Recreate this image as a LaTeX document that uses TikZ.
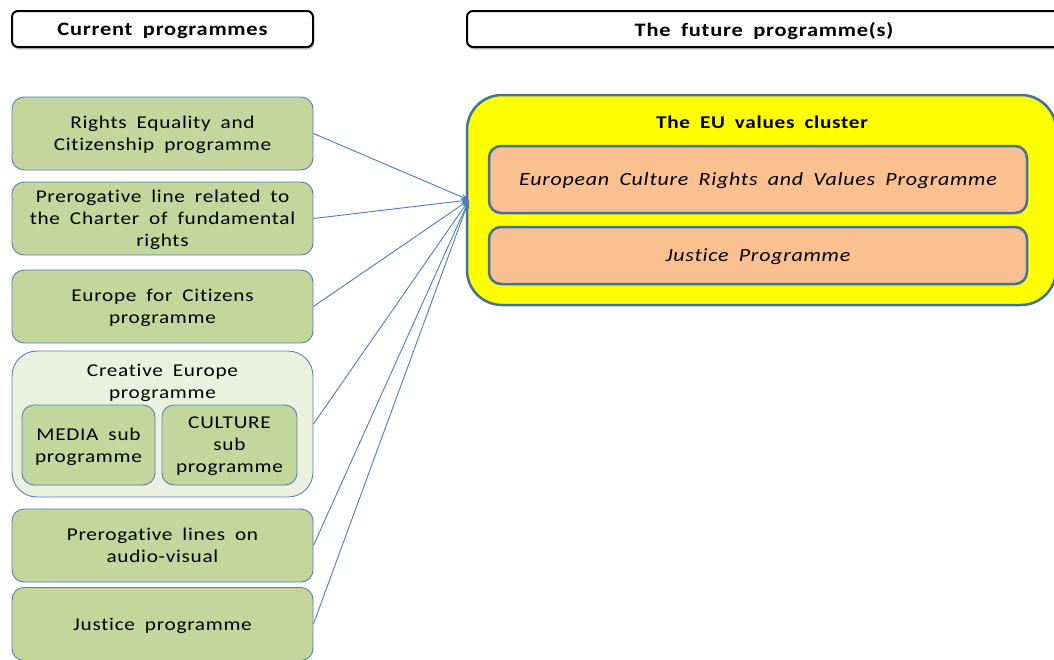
\documentclass[tikz,border=0pt]{standalone}
\usepackage{fontspec}
\setmainfont{Carlito}[LetterSpace=4,WordSpace=1.8,FakeStretch=1.18,Ligatures=NoCommon]
\usetikzlibrary{arrows.meta,shadows}
\definecolor{boxgreen}{HTML}{C3D69B}
\definecolor{palegreen}{HTML}{EBF1DE}
\definecolor{boxblue}{HTML}{4F81BD}
\definecolor{darkblue}{HTML}{41719C}
\definecolor{boxorange}{HTML}{FAC090}
\definecolor{clusteryellow}{HTML}{FFFF00}
\definecolor{arrowblue}{HTML}{4A7EBB}
\tikzset{
  header/.style={draw=black,line width=2pt,fill=white,rounded corners=6pt,
    drop shadow={shadow xshift=1pt,shadow yshift=-2.5pt,opacity=0.45},
    minimum height=36pt,text depth=0pt,font=\fontsize{19}{22}\selectfont\bfseries},
  oldprog/.style={draw=boxblue,line width=0.9pt,fill=boxgreen,rounded corners=12pt,
    minimum width=301pt,minimum height=73pt,align=center,inner sep=0pt,text depth=0pt,
    font=\fontsize{18}{22}\selectfont},
  subprog/.style={oldprog,minimum height=80pt},
  newprog/.style={draw=darkblue,line width=2.5pt,fill=boxorange,rounded corners=12pt,
    minimum width=538pt,text depth=0pt,font=\fontsize{18.6}{22}\selectfont\itshape},
  feed/.style={draw=arrowblue,line width=0.9pt,-{Stealth[length=8pt,width=6pt]}}
}
\begin{document}
\begin{tikzpicture}[x=1pt,y=-1pt]
  \useasboundingbox (0,0) rectangle (1054,659);
  \node[header,minimum width=301pt] (cur) at (162.5,29) {Current programmes};
  \node[header,minimum width=594pt] (fut) at (764,29) {The future programme(s)};

  \node[oldprog] (reqc) at (162.5,133.5) {Rights Equality and\\Citizenship programme};
  \node[oldprog] (charter) at (162.5,218.5) {Prerogative line related to\\the Charter of fundamental\\rights};
  \node[oldprog] (efc) at (162.5,306.5) {Europe for Citizens\\programme};
  \node[oldprog,fill=palegreen,rounded corners=25pt,minimum height=146pt] (crea) at (162.5,424) {};
  \node[align=center,font=\fontsize{18}{22}\selectfont] (crealab) at (162.5,383) {Creative Europe\\programme};
  \node[subprog,minimum width=133pt] (media) at (88.5,445) {MEDIA sub\\programme};
  \node[subprog,minimum width=135pt] (culture) at (229.5,445) {CULTURE\\sub\\programme};
  \node[oldprog] (av) at (162.5,545.5) {Prerogative lines on\\audio-visual};
  \node[oldprog] (just) at (162.5,624) {Justice programme};

  \node[draw=darkblue,line width=2.5pt,fill=clusteryellow,rounded corners=35pt,
    minimum width=589pt,minimum height=210pt] (cluster) at (761.5,200) {};
  \node[font=\fontsize{18}{22}\selectfont\bfseries] (clulab) at (762,122) {The EU values cluster};
  \node[newprog,minimum height=67pt] (ecrv) at (758,179.5) {European Culture Rights and Values Programme};
  \node[newprog,minimum height=57pt] (justnew) at (758,255.5) {Justice Programme};

  \coordinate (hub) at (469,200);
  \foreach \src in {reqc,charter,efc,crea,av,just}
    \draw[feed] (\src.east) -- (hub);
\end{tikzpicture}
\end{document}
